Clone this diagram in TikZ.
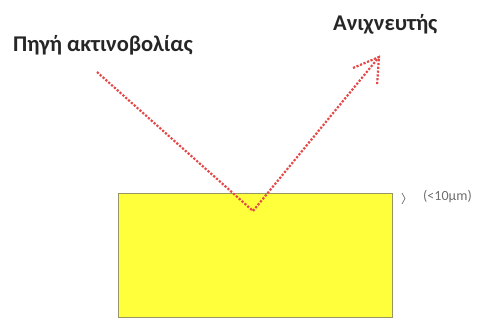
\documentclass[tikz,border=0pt]{standalone}
\usepackage{fontspec}
\setmainfont{Carlito}
\usepackage{tikz}
\usetikzlibrary{positioning, calc, decorations.pathreplacing}
\definecolor{raycol}{RGB}{228,72,72}
\definecolor{samplefill}{RGB}{255,255,60}
\definecolor{sampleedge}{RGB}{150,150,100}
\definecolor{notegray}{RGB}{110,110,110}
\tikzset{
  lbl/.style={font=\fontsize{22.5}{26}\selectfont\bfseries, inner sep=0pt, text=black!85},
  sample/.style={rectangle, draw=sampleedge, fill=samplefill, line width=1pt,
                 minimum width=274pt, minimum height=124pt, inner sep=0pt},
  ray/.style={draw=raycol, line width=2.2pt, dash pattern=on 2.2pt off 1.6pt},
  note/.style={font=\fontsize{14}{16}\selectfont, text=notegray, inner sep=0pt},
}

\begin{document}
\begin{tikzpicture}[x=1pt, y=-1pt]
  \useasboundingbox (0,0) rectangle (484,323);
  % sample block
  \node[sample, anchor=north west] (block) at (118,193) {};
  \node[lbl, anchor=west] (source) at (13,45) {Πηγή ακτινοβολίας};
  \node[lbl, anchor=west] (detector) at (333,24) {Ανιχνευτής};
  % ray path
  \coordinate (start) at (97,72);
  \coordinate (hit) at (253,211);
  \coordinate (tip) at (379,57);
  \draw[ray] (start) -- (hit) -- (tip);
  \draw[ray] ($(tip)+(-26,11)$) -- (tip) -- ($(tip)+(-2,28)$);
  % layer thickness
  \draw[notegray, line width=0.7pt, decorate, decoration={brace, amplitude=3pt}]
    ([xshift=9pt]block.north east) -- ++(0,11) coordinate (bracebot);
  \node[note, anchor=west] (depth) at (423,197) {(<10μm)};
\end{tikzpicture}
\end{document}
